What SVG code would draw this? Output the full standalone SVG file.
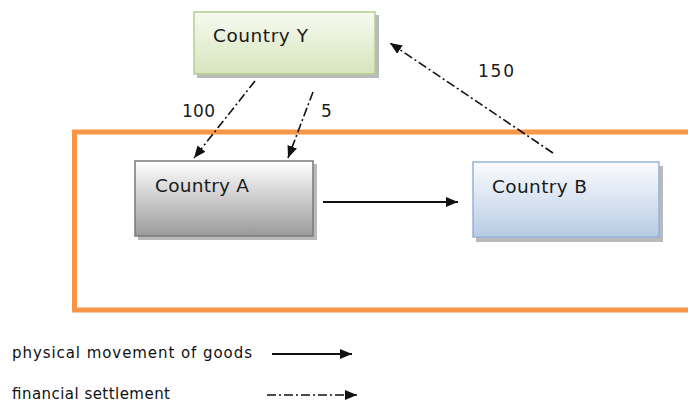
<svg xmlns="http://www.w3.org/2000/svg" width="688" height="403" viewBox="0 0 688 403">
<style>
.lbl{font-family:"DejaVu Sans","Liberation Sans",sans-serif;font-size:18.5px;fill:#1a1a1a}
.num{font-family:"DejaVu Sans","Liberation Sans",sans-serif;font-size:17px;fill:#1a1a1a}
.leg{font-family:"DejaVu Sans","Liberation Sans",sans-serif;font-size:15px;fill:#111}
.solid{stroke:#111;stroke-width:1.8;fill:none}
.dd{stroke:#111;stroke-width:1.6;fill:none;stroke-dasharray:9 3 2 3}
.shadow{fill:#8c8c8c;opacity:0.6}
</style>
<defs>
<linearGradient id="gY" x1="0" y1="0" x2="0" y2="1"><stop offset="0" stop-color="#f7faf0"/><stop offset="1" stop-color="#d6e5bd"/></linearGradient>
<linearGradient id="gA" x1="0" y1="0" x2="0" y2="1"><stop offset="0" stop-color="#ffffff"/><stop offset="1" stop-color="#9a9a9a"/></linearGradient>
<linearGradient id="gB" x1="0" y1="0" x2="0" y2="1"><stop offset="0" stop-color="#fbfcfe"/><stop offset="1" stop-color="#b7cbe3"/></linearGradient>
<marker id="ah" viewBox="0 0 12 10" refX="12" refY="5" markerWidth="12" markerHeight="10" markerUnits="userSpaceOnUse" orient="auto"><path d="M0,0 L12,5 L0,10 Z" fill="#111"/></marker>
</defs>
<rect x="74.5" y="132" width="620" height="178" fill="none" stroke="#f79646" stroke-width="5"/>
<g id="countryY">
<rect class="shadow" x="197" y="15" width="182" height="63"/>
<rect x="194" y="12" width="181" height="62" fill="url(#gY)" stroke="#b6cd8f" stroke-width="1.5"/>
<text class="lbl" x="213" y="42" textLength="95">Country Y</text>
</g>
<g id="countryA">
<rect class="shadow" x="138" y="164" width="179" height="76"/>
<rect x="135" y="161" width="178" height="75" fill="url(#gA)" stroke="#7a7a7a" stroke-width="1.5"/>
<text class="lbl" x="155" y="192" textLength="94">Country A</text>
</g>
<g id="countryB">
<rect class="shadow" x="476" y="166" width="187" height="76"/>
<rect x="473" y="162" width="186" height="75" fill="url(#gB)" stroke="#95b3d7" stroke-width="1.5"/>
<text class="lbl" x="492" y="193" textLength="95">Country B</text>
</g>
<g id="connectors">
<line class="solid" x1="323" y1="202" x2="458" y2="202" marker-end="url(#ah)"/>
<line class="dd" x1="255" y1="81" x2="194" y2="158" marker-end="url(#ah)"/>
<line class="dd" x1="313" y1="92" x2="288" y2="158" marker-end="url(#ah)"/>
<line class="dd" x1="553" y1="153" x2="390" y2="43" marker-end="url(#ah)"/>
<text class="num" x="182" y="117" textLength="33">100</text>
<text class="num" x="321" y="117">5</text>
<text class="num" x="478" y="77" textLength="36">150</text>
</g>
<g id="legend">
<text class="leg" x="12" y="358" textLength="240">physical movement of goods</text>
<line class="solid" x1="272" y1="354" x2="352" y2="354" marker-end="url(#ah)"/>
<text class="leg" x="12" y="399" textLength="158">financial settlement</text>
<line class="dd" x1="267" y1="395" x2="357" y2="395" marker-end="url(#ah)"/>
</g>
</svg>
